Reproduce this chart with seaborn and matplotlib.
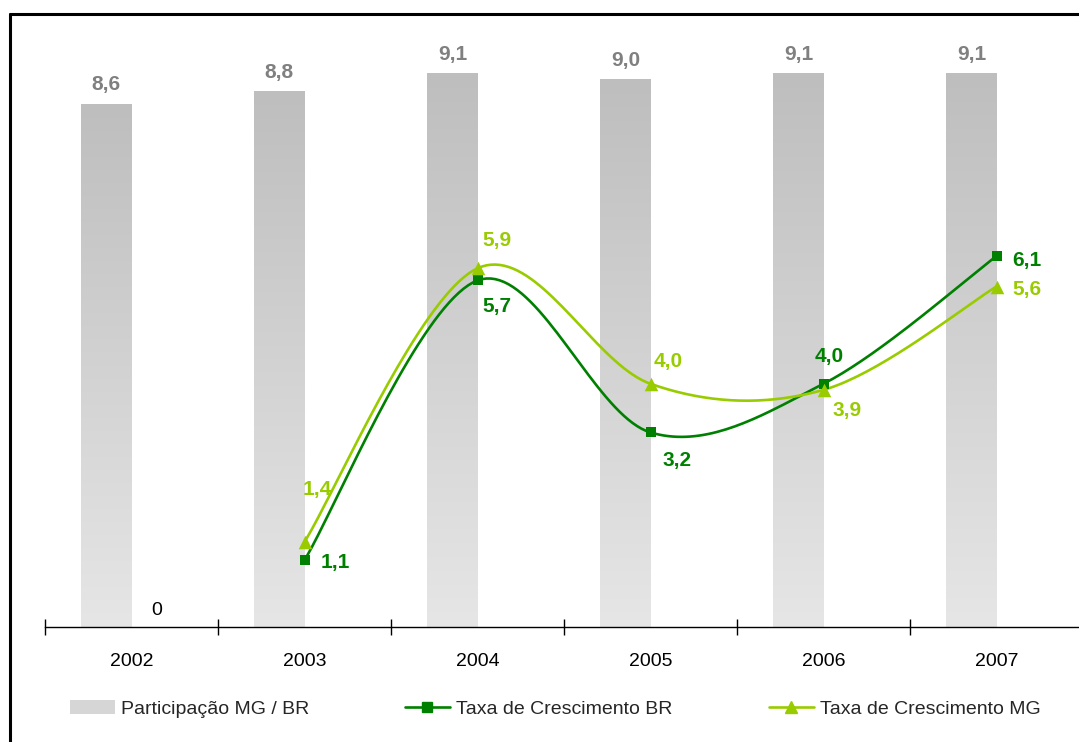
import numpy as np
import pandas as pd
import matplotlib
matplotlib.use("Agg")
import matplotlib.pyplot as plt
from matplotlib.lines import Line2D
from matplotlib.patches import Patch
from matplotlib.colors import LinearSegmentedColormap
import seaborn as sns

# ---------------- data ----------------
years = ["2002", "2003", "2004", "2005", "2006", "2007"]
participacao = [8.6, 8.8, 9.1, 9.0, 9.1, 9.1]
extra_series = [0.0, np.nan, np.nan, np.nan, np.nan, np.nan]
line_years = ["2003", "2004", "2005", "2006", "2007"]
taxa_br = [1.1, 5.7, 3.2, 4.0, 6.1]
taxa_mg = [1.4, 5.9, 4.0, 3.9, 5.6]

bar_name = "Participação MG / BR"
br_name = "Taxa de Crescimento BR"
mg_name = "Taxa de Crescimento MG"

# ---------------- styles ----------------
DARK = "#008000"
LIGHT = "#99cc00"
GRAY_TXT = "#808080"
# label offsets in points (dx, dy)
br_off = [(22, -2), (14, -19), (19, -20), (4, 20), (22, -3)]
mg_off = [(9, 38), (14, 20), (13, 16), (17, -15), (22, -2)]

sns.set_style("white")
plt.rcParams["font.family"] = ["Liberation Sans", "DejaVu Sans"]

fig = plt.figure(figsize=(10.79, 7.42), dpi=100)
ax = fig.add_axes([45 / 1079, 115 / 742, 1038 / 1079, 608 / 742])

df = pd.DataFrame({
    "year": years * 2,
    "serie": [bar_name] * len(years) + ["extra"] * len(years),
    "valor": participacao + extra_series,
})
sns.barplot(data=df, x="year", y="valor", hue="serie", order=years,
            hue_order=[bar_name, "extra"],
            palette={bar_name: "#c8c8c8", "extra": "#ffffff"},
            width=0.58, dodge=True, legend=False, ax=ax, zorder=1,
            linewidth=0)

ax.set_ylim(0, 10)
xlim = (-0.5, len(years) - 0.5)

# gradient fill for the bars
cmap = LinearSegmentedColormap.from_list("g", ["#e6e6e6", "#bebebe"])
grad = np.linspace(0, 1, 256).reshape(-1, 1)
bar_cont = ax.containers[0]
for p, v in zip(bar_cont.patches, participacao):
    x0, w = p.get_x(), p.get_width()
    p.set_facecolor("none")
    ax.imshow(grad, extent=[x0, x0 + w, 0, v], origin="lower", aspect="auto",
              cmap=cmap, zorder=1, interpolation="bicubic")
    ax.annotate(f"{v:.1f}".replace(".", ","), (x0 + w / 2, v),
                xytext=(0, 14), textcoords="offset points",
                ha="center", va="center", fontsize=15, fontweight="bold",
                color=GRAY_TXT)

# "0" label of the second bar series
if len(ax.containers) > 1:
    valid = [v for v in extra_series if not np.isnan(v)]
    for p, v in zip(ax.containers[1].patches, valid):
        p.set_facecolor("none")
        ax.annotate(f"{v:.0f}", (p.get_x() + p.get_width() / 2, v),
                    xytext=(0, 12), textcoords="offset points",
                    ha="center", va="center", fontsize=14, color="black")


def smooth(xs, ys, n=40):
    """Excel-style smoothed line (Catmull-Rom Bezier) through the points."""
    pts = np.column_stack([xs, ys]).astype(float)
    ext = np.vstack([pts[0], pts, pts[-1]])
    out = []
    for i in range(len(pts) - 1):
        p0, p3 = ext[i + 1], ext[i + 2]
        c1 = p0 + (ext[i + 2] - ext[i]) / 6
        c2 = p3 - (ext[i + 3] - ext[i + 1]) / 6
        t = np.linspace(0, 1, n)[:, None]
        seg = ((1 - t) ** 3) * p0 + 3 * ((1 - t) ** 2) * t * c1 + \
            3 * (1 - t) * t ** 2 * c2 + t ** 3 * p3
        out.append(seg if i == 0 else seg[1:])
    return np.vstack(out)


pos = [years.index(y) for y in line_years]
for vals, col, mk, size, offs in [(taxa_br, DARK, "s", 55, br_off),
                                  (taxa_mg, LIGHT, "^", 95, mg_off)]:
    curve = smooth(pos, vals)
    sns.lineplot(x=curve[:, 0], y=curve[:, 1], sort=False, color=col,
                 linewidth=1.9, ax=ax, zorder=3, estimator=None)
    sns.scatterplot(x=pos, y=vals, marker=mk, s=size, color=col,
                    edgecolor=col, linewidth=0, ax=ax, zorder=4)
    for xp, v, (dx, dy) in zip(pos, vals, offs):
        ax.annotate(f"{v:.1f}".replace(".", ","), (xp, v), xytext=(dx, dy),
                    textcoords="offset points", ha="center", va="center",
                    fontsize=15, fontweight="bold", color=col, zorder=5)

ax.set_xlim(*xlim)
ax.set_ylim(0, 10)
ax.set_xlabel("")
ax.set_ylabel("")
ax.set_yticks([])
ax.set_xticks(range(len(years)))
ax.set_xticklabels(years)
ax.set_xticks(np.arange(-0.5, len(years), 1), minor=True)
ax.tick_params(axis="x", which="major", bottom=True, length=0, pad=19,
               labelsize=14, colors="black")
ax.tick_params(axis="x", which="minor", bottom=True, length=12, width=1,
               direction="inout", color="black")
for s in ["top", "right", "left"]:
    ax.spines[s].set_visible(False)
ax.spines["bottom"].set_color("black")
ax.spines["bottom"].set_linewidth(1)
ax.patch.set_alpha(0)

# legends
handles = [
    (Patch(facecolor="#d6d6d6", edgecolor="none"), bar_name, 70),
    (Line2D([], [], color=DARK, lw=1.9, marker="s", ms=7), br_name, 405),
    (Line2D([], [], color=LIGHT, lw=1.9, marker="^", ms=9), mg_name, 769),
]
for h, lab, xp in handles:
    fig.legend(handles=[h], labels=[lab], loc="center left",
               bbox_to_anchor=(xp / 1079, 33 / 742), frameon=False,
               fontsize=14, handlelength=2.3, handletextpad=0.3,
               borderpad=0, borderaxespad=0)

# outer frame (top and left edges)
fig.add_artist(Line2D([10 / 1079, 10 / 1079], [0, 728 / 742],
                      transform=fig.transFigure, color="black", lw=2.2))
fig.add_artist(Line2D([10 / 1079, 1], [728 / 742, 728 / 742],
                      transform=fig.transFigure, color="black", lw=2.2))

fig.savefig("out.png", dpi=100, facecolor="white")
